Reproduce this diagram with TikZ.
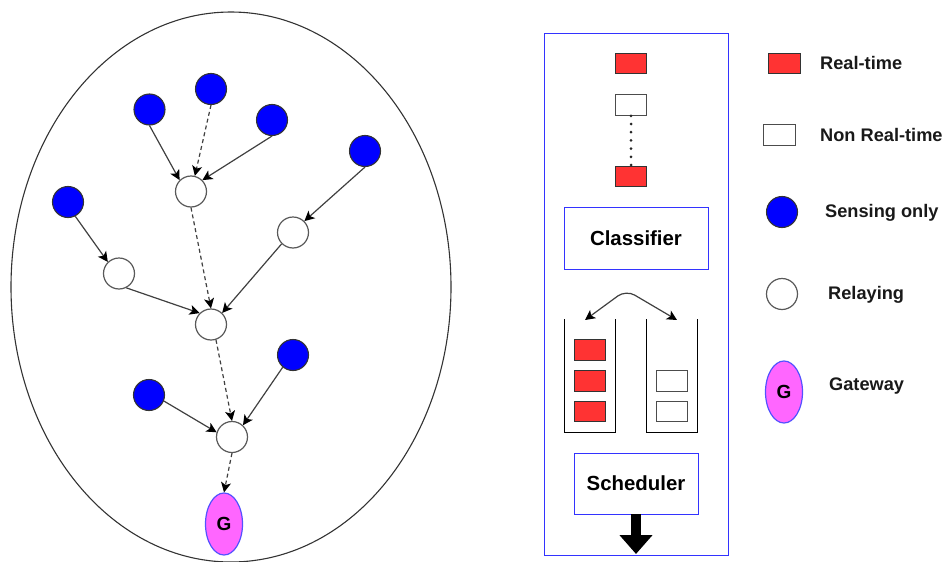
\documentclass[tikz,border=0pt]{standalone}
\usepackage{fontspec}
\setmainfont{Liberation Sans}
\usetikzlibrary{arrows.meta,shapes.geometric}
\definecolor{rtred}{HTML}{FF3333}
\definecolor{gwpink}{HTML}{FF66FF}
\definecolor{boxblue}{HTML}{3333FF}
\tikzset{
  sensor/.style={circle,draw=black!80,line width=1.1pt,fill=blue,minimum size=31pt,inner sep=0pt},
  relay/.style={circle,draw=black!65,line width=1.2pt,fill=white,minimum size=31pt,inner sep=0pt},
  gateway/.style={ellipse,draw=boxblue!85,line width=1.2pt,fill=gwpink,minimum width=37pt,minimum height=62pt,inner sep=0pt,font=\bfseries\fontsize{19}{22}\selectfont},
  rtbox/.style={rectangle,draw=black!80,line width=1.1pt,fill=rtred,minimum width=31.5pt,minimum height=20.5pt,inner sep=0pt},
  nrtbox/.style={rectangle,draw=black!70,line width=1.1pt,fill=white,minimum width=31.5pt,minimum height=20.5pt,inner sep=0pt},
  panel/.style={rectangle,draw=boxblue,line width=0.95pt,fill=white,inner sep=0pt,font=\bfseries\fontsize{20.4}{24}\selectfont},
  legend/.style={anchor=west,inner sep=0pt,font=\bfseries\fontsize{18.2}{22}\selectfont,text=black!90},
  link/.style={draw=black!75,line width=1.2pt,-{Stealth[length=10pt,width=10pt,inset=2.5pt,black]}},
  dlink/.style={link,dash pattern=on 4pt off 3pt},
  queue/.style={draw=black,line width=0.9pt},
}
\begin{document}
\begin{tikzpicture}[x=1pt,y=-1pt]
\useasboundingbox (0,0) rectangle (945,562);
% network cloud
\node[ellipse,draw=black!80,line width=1.1pt,minimum width=440pt,minimum height=550pt,inner sep=0pt] (cloud) at (231,287) {};
% relays
\node[relay] (r1) at (191,191.5) {};
\node[relay] (r2) at (293,232.5) {};
\node[relay] (r3) at (119,273.5) {};
\node[relay] (r4) at (211,324.5) {};
\node[relay] (r5) at (232,437) {};
% sensors
\node[sensor] (s1) at (149.5,109.5) {};
\node[sensor] (s2) at (211,89) {};
\node[sensor] (s3) at (272,120) {};
\node[sensor] (s4) at (365,151) {};
\node[sensor] (s5) at (68,202) {};
\node[sensor] (s6) at (293,355) {};
\node[sensor] (s7) at (149,395) {};
\node[gateway] (g) at (224,524) {G};
% links
\draw[link] (s1.south) -- (r1.135);
\draw[dlink] (s2.south) -- (r1.76);
\draw[link] (s3.south) -- (r1.45);
\draw[link] (s4.south) -- (r2.45);
\draw[link] (s5.-63) -- (r3.134);
\draw[link] (r3.-63) -- (r4.135);
\draw[link] (r2.225) -- (r4.46);
\draw[dlink] (r1.south) -- (r4.north);
\draw[dlink] (r4.-72) -- (r5.north);
\draw[link] (s6.230) -- (r5.47);
\draw[link] (s7.-22) -- (r5.163);
\draw[dlink] (r5.south) -- (g.north);
% scheduler panel
\node[rectangle,draw=boxblue,line width=0.95pt,minimum width=184pt,minimum height=522pt,inner sep=0pt] (frame) at (636,294) {};
\node[rtbox] (p1) at (631,63.5) {};
\node[nrtbox] (p2) at (631,105) {};
\node[rtbox] (p3) at (631,176.5) {};
\draw[black!85,line width=3pt,line cap=round,dash pattern=on 0pt off 8.2pt] (p2.south) -- (p3.north);
\node[panel,minimum width=144pt,minimum height=62pt] (cls) at (636,238) {Classifier};
\node[panel,minimum width=124pt,minimum height=61pt] (sch) at (636,483.5) {Scheduler};
% queues
\coordinate (q1a) at (564.5,319);
\coordinate (q1b) at (564.5,432);
\coordinate (q1c) at (615.5,432);
\coordinate (q1d) at (615.5,319);
\coordinate (q2a) at (646.5,319);
\coordinate (q2b) at (646.5,432);
\coordinate (q2c) at (697.5,432);
\coordinate (q2d) at (697.5,319);
\draw[queue] (q1a) -- (q1b) -- (q1c) -- (q1d);
\draw[queue] (q2a) -- (q2b) -- (q2c) -- (q2d);
\node[rtbox] (a1) at (590,350) {};
\node[rtbox] (a2) at (590,381) {};
\node[rtbox] (a3) at (590,411.5) {};
\node[nrtbox] (b1) at (672,381) {};
\node[nrtbox] (b2) at (672,411.5) {};
% split arrows
\coordinate (split) at (626,290);
\coordinate (inL) at (585,320);
\coordinate (inR) at (677,320);
\draw[draw=black!75,line width=1.2pt,rounded corners=10pt,{Stealth[length=10pt,width=10pt,inset=2.5pt,black]}-{Stealth[length=10pt,width=10pt,inset=2.5pt,black]}] (inL) -- (split) -- (inR);
% output arrow
\coordinate (out) at (636,554);
\draw[black,line width=10pt,-{Triangle[length=19pt,width=32pt]}] (sch.south) -- (out);
% legend
\node[rtbox] (l1) at (784.5,63.5) {};
\node[nrtbox] (l2) at (779.5,135) {};
\node[sensor] (l3) at (782,212) {};
\node[relay] (l4) at (782,294) {};
\node[gateway] (l5) at (784,392) {G};
\node[legend] (t1) at (820,63) {Real-time};
\node[legend] (t2) at (820,135) {Non Real-time};
\node[legend] (t3) at (825,213) {Sensing only};
\node[legend] (t4) at (828,295) {Relaying};
\node[legend] (t5) at (829,386) {Gateway};
\end{tikzpicture}
\end{document}
